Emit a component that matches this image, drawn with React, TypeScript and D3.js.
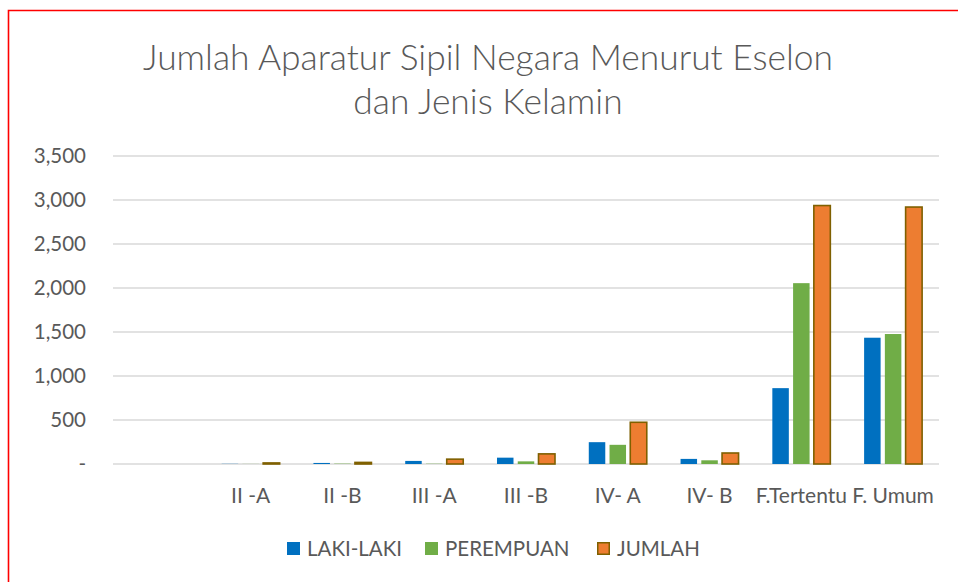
import React from "react";
import * as d3 from "d3";

const categories = ["", "II -A", "II -B", "III -A", "III -B", "IV- A", "IV- B", "F.Tertentu", "F. Umum"];
const lakiLaki = [0, 2, 12, 35, 72, 248, 58, 862, 1435];
const perempuan = [0, 1, 4, 3, 30, 218, 42, 2055, 1477];
const jumlah = [0, 12, 18, 55, 115, 474, 125, 2937, 2920];
const yTicks = [0, 500, 1000, 1500, 2000, 2500, 3000, 3500];

const seriesNames = ["LAKI-LAKI", "PEREMPUAN", "JUMLAH"];
const seriesColors = ["#0070C0", "#70AD47", "#ED7D31"];
const seriesValues = [lakiLaki, perempuan, jumlah];

export default function App() {
  const width = 958;
  const height = 582;
  const plot = { left: 113, right: 939, top: 156, bottom: 464 };
  const font = "Lato, 'Open Sans', sans-serif";
  const textColor = "#595959";

  const x = d3.scaleBand<string>().domain(categories.map((c, i) => String(i))).range([plot.left, plot.right]);
  const y = d3.scaleLinear().domain([0, 3500]).range([plot.bottom, plot.top]);
  const groupW = 58;
  const inner = d3.scaleBand<number>().domain([0, 1, 2]).range([0, groupW]).paddingInner(0.205);
  const groupOffset = (x.bandwidth() - groupW) / 2;

  const fmt = (v: number) => (v === 0 ? "-" : d3.format(",")(v));

  return (
    <div style={{ position: "fixed", left: 0, top: 0 }}>
      <svg width={width} height={height} style={{ display: "block", background: "#fff" }}>
        {/* red frame */}
        <path d={`M8.5,${height + 5} V10.5 H${width + 5}`} fill="none" stroke="#ff0000" strokeWidth={1.6} />

        <text x={488} y={70} textAnchor="middle" fontFamily={font} fontWeight={300} fontSize={35.4} fill={textColor}>
          Jumlah Aparatur Sipil Negara Menurut Eselon
        </text>
        <text x={488} y={114} textAnchor="middle" fontFamily={font} fontWeight={300} fontSize={35.4} fill={textColor}>
          dan Jenis Kelamin
        </text>

        {yTicks.map((t) => (
          <g key={t}>
            <line x1={plot.left} x2={plot.right} y1={y(t)} y2={y(t)} stroke="#d9d9d9" strokeWidth={1.3} />
            <text x={86} y={y(t) + 7} textAnchor="end" fontFamily={font} fontSize={20.5} fill={textColor}>
              {fmt(t)}
            </text>
          </g>
        ))}

        {categories.map((c, i) => (
          <g key={i} transform={`translate(${x(String(i))! + groupOffset},0)`}>
            {seriesValues.map((vals, s) => {
              const v = vals[i];
              if (v <= 0) return null;
              const isJ = s === 2;
              const top = y(v);
              return (
                <rect
                  key={s}
                  x={inner(s)!}
                  y={top}
                  width={inner.bandwidth()}
                  height={plot.bottom - top}
                  fill={seriesColors[s]}
                  stroke={isJ ? "#7F6000" : "none"}
                  strokeWidth={isJ ? 1.6 : 0}
                />
              );
            })}
          </g>
        ))}

        {categories.map((c, i) => (
          <text
            key={"l" + i}
            x={x(String(i))! + x.bandwidth() / 2}
            y={503}
            textAnchor="middle"
            fontFamily={font}
            fontSize={21}
            fill={textColor}
          >
            {c}
          </text>
        ))}

        {seriesNames.map((n, s) => {
          const lx = [287, 425, 597][s];
          return (
            <g key={n}>
              <rect
                x={lx + (s === 2 ? 0.75 : 0)}
                y={542 + (s === 2 ? 0.75 : 0)}
                width={13 - (s === 2 ? 1.5 : 0)}
                height={13 - (s === 2 ? 1.5 : 0)}
                fill={seriesColors[s]}
                stroke={s === 2 ? "#7F6000" : "none"}
                strokeWidth={1.5}
              />
              <text x={lx + 20} y={556} fontFamily={font} fontSize={20.5} fill={textColor}>
                {n}
              </text>
            </g>
          );
        })}
      </svg>
    </div>
  );
}
